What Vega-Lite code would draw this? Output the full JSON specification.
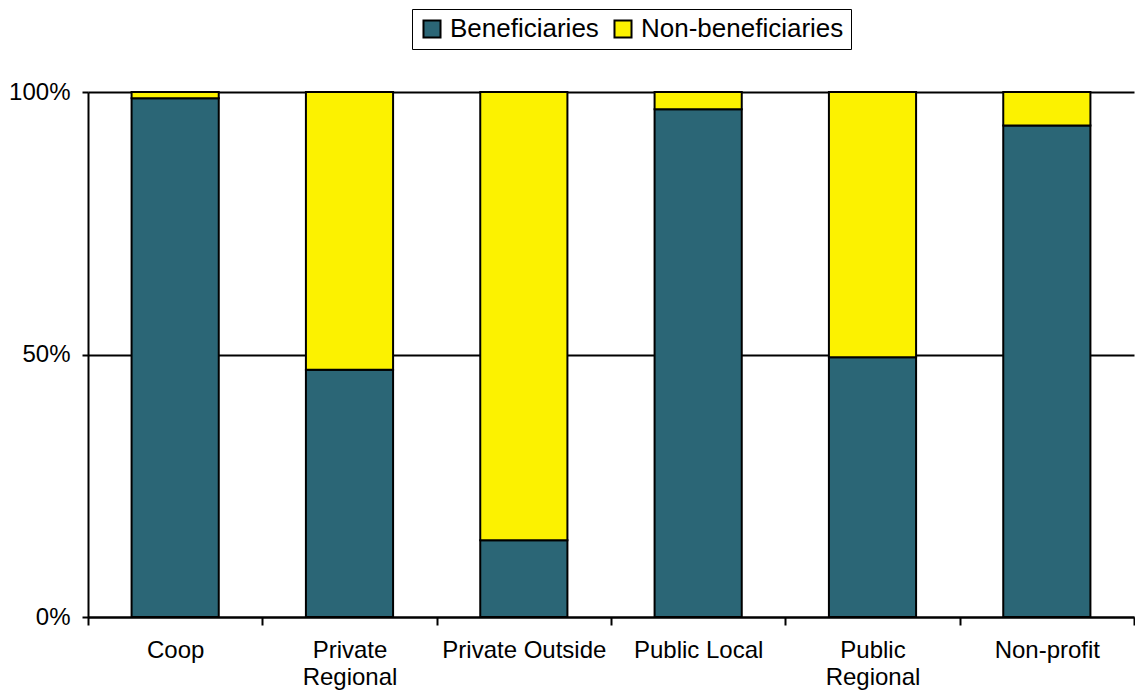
{
  "$schema": "https://vega.github.io/schema/vega-lite/v6.json",
  "autosize": "none",
  "width": 1046,
  "height": 525,
  "padding": {"left": 88, "top": 92, "right": 1, "bottom": 77},
  "background": "white",
  "config": {
    "view": {"stroke": null},
    "font": "Liberation Sans",
    "axis": {"labelFont": "Liberation Sans", "labelColor": "black", "domainColor": "black", "tickColor": "black"}
  },
  "data": {
    "values": [
      {"category": "Coop", "series": "Beneficiaries", "share": 98.8},
      {"category": "Coop", "series": "Non-beneficiaries", "share": 1.2},
      {"category": "Private Regional", "series": "Beneficiaries", "share": 47.1},
      {"category": "Private Regional", "series": "Non-beneficiaries", "share": 52.9},
      {"category": "Private Outside", "series": "Beneficiaries", "share": 14.6},
      {"category": "Private Outside", "series": "Non-beneficiaries", "share": 85.4},
      {"category": "Public Local", "series": "Beneficiaries", "share": 96.7},
      {"category": "Public Local", "series": "Non-beneficiaries", "share": 3.3},
      {"category": "Public Regional", "series": "Beneficiaries", "share": 49.5},
      {"category": "Public Regional", "series": "Non-beneficiaries", "share": 50.5},
      {"category": "Non-profit", "series": "Beneficiaries", "share": 93.6},
      {"category": "Non-profit", "series": "Non-beneficiaries", "share": 6.4}
    ]
  },
  "mark": {"type": "bar", "stroke": "black", "strokeWidth": 2, "width": {"band": 0.5}},
  "encoding": {
    "x": {
      "field": "category",
      "type": "nominal",
      "sort": null,
      "title": null,
      "scale": {"paddingInner": 0, "paddingOuter": 0},
      "axis": {
        "tickBand": "extent",
        "tickSize": 8,
        "tickWidth": 2,
        "domainWidth": 2,
        "labelAngle": 0,
        "labelFontSize": 24,
        "labelPadding": 13,
        "labelLineHeight": 27,
        "labelExpr": "indexof(['Private Regional', 'Public Regional'], datum.label) >= 0 ? split(datum.label, ' ') : datum.label"
      }
    },
    "y": {
      "field": "share",
      "type": "quantitative",
      "stack": "normalize",
      "title": null,
      "scale": {"domain": [0, 1], "nice": false},
      "axis": {
        "values": [0, 0.5, 1],
        "format": ".0%",
        "grid": true,
        "gridColor": "black",
        "gridWidth": 2,
        "gridOpacity": 1,
        "tickSize": 6,
        "tickWidth": 2,
        "domainWidth": 2,
        "labelFontSize": 24,
        "labelPadding": 12
      }
    },
    "order": {"field": "series", "sort": "ascending"},
    "color": {
      "field": "series",
      "type": "nominal",
      "scale": {"domain": ["Beneficiaries", "Non-beneficiaries"], "range": ["#2B6676", "#FCF200"]},
      "legend": {
        "title": null,
        "orient": "none",
        "direction": "horizontal",
        "legendX": 324,
        "legendY": -83,
        "symbolType": "square",
        "symbolSize": 290,
        "symbolStrokeColor": "black",
        "symbolStrokeWidth": 2,
        "symbolOpacity": 1,
        "labelFontSize": 26,
        "labelFont": "Liberation Sans",
        "labelColor": "black",
        "labelLimit": 500,
        "labelOffset": 5,
        "columnPadding": 11,
        "padding": 7,
        "strokeColor": "black",
        "fillColor": "white"
      }
    }
  }
}
